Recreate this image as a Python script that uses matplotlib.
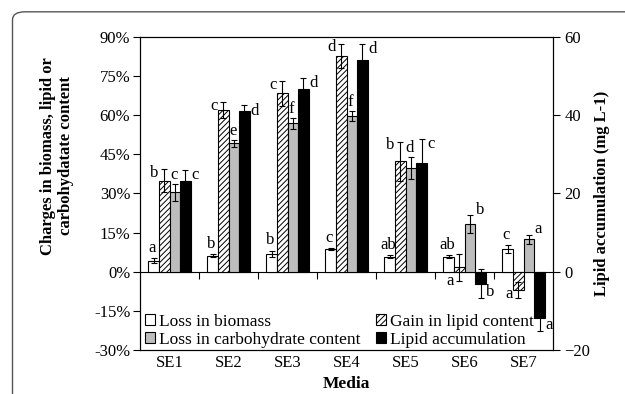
import numpy as np
import matplotlib.pyplot as plt
from matplotlib.patches import FancyBboxPatch

plt.rcParams['font.family'] = ['Liberation Serif', 'DejaVu Serif']
plt.rcParams['hatch.linewidth'] = 0.7

media = ['SE1', 'SE2', 'SE3', 'SE4', 'SE5', 'SE6', 'SE7']

# percent changes (left axis)
biomass = [4.2, 6.1, 6.8, 8.7, 5.75, 5.7, 8.7]
biomass_err = [1.0, 0.5, 1.3, 0.5, 0.5, 0.5, 1.5]
lipid = [34.9, 62.0, 68.4, 82.8, 42.3, 1.6, -7.0]
lipid_err = [4.5, 3.0, 4.8, 4.7, 7.6, 5.0, 3.0]
carb = [30.4, 49.2, 56.9, 59.8, 39.8, 18.3, 12.5]
carb_err = [3.3, 1.3, 2.0, 2.0, 4.3, 3.5, 1.7]

# lipid accumulation, mg L-1 (right axis)
accum = [23.3, 41.0, 46.7, 54.1, 27.9, -3.1, -11.9]
accum_err = [2.7, 1.5, 2.9, 4.2, 6.0, 3.7, 3.3]

biomass_lbl = ['a', 'b', 'b', 'c', 'ab', 'ab', 'c']
lipid_lbl = ['b', 'c', 'c', 'd', 'b', 'a', 'a']
carb_lbl = ['c', 'e', 'f', 'f', 'd', 'b', 'a']
accum_lbl = ['c', 'd', 'd', 'd', 'c', 'b', 'a']

x = np.arange(len(media))
w = 0.18
offs = [-1.5 * w, -0.5 * w, 0.5 * w, 1.5 * w]

fig = plt.figure(figsize=(6.25, 3.94), dpi=100)
fig.patches.append(FancyBboxPatch((0.02, -0.1), 1.2, 1.07, boxstyle='round,pad=0,rounding_size=0.02',
                                  transform=fig.transFigure, fill=False, ec='#555555', lw=1.0))
ax = fig.add_axes([0.224, 0.112, 0.661, 0.794])
ax2 = ax.twinx()

ekw = dict(elinewidth=0.8, capthick=0.8, capsize=2.5, ecolor='black')
b1 = ax.bar(x + offs[0], biomass, w, color='white', edgecolor='black', lw=0.8,
            yerr=biomass_err, error_kw=ekw, label='Loss in biomass')
b2 = ax.bar(x + offs[1], lipid, w, color='white', edgecolor='black', lw=0.8, hatch='//////',
            yerr=lipid_err, error_kw=ekw, label='Gain in lipid content')
b3 = ax.bar(x + offs[2], carb, w, color='#bdbdbd', edgecolor='black', lw=0.8,
            yerr=carb_err, error_kw=ekw, label='Loss in carbohydrate content')
b4 = ax2.bar(x + offs[3], accum, w, color='black', edgecolor='black', lw=0.8,
             yerr=accum_err, error_kw=ekw, label='Lipid accumulation')

fs = 12
for i in range(len(media)):
    ax.text(x[i] + offs[0] - 0.03, biomass[i] + biomass_err[i] + 0.8, biomass_lbl[i],
            ha='center', va='bottom', fontsize=fs)
    # hatched: left of bar at end of error bar
    if lipid[i] >= 0 and lipid[i] - lipid_err[i] > 0:
        ax.text(x[i] + offs[1] - w / 2 - 0.01, lipid[i] + lipid_err[i] - 1.5, lipid_lbl[i],
                ha='right', va='center', fontsize=fs)
    else:
        ax.text(x[i] + offs[1] - w / 2 - 0.01, min(lipid[i], 0) - lipid_err[i] + 1.5, lipid_lbl[i],
                ha='right', va='center', fontsize=fs)
    if i < 5:
        ax.text(x[i] + offs[2] - 0.02, carb[i] + carb_err[i] + 0.3, carb_lbl[i],
                ha='center', va='bottom', fontsize=fs)
    else:
        ax.text(x[i] + offs[2] + w / 2 + 0.01, carb[i] + carb_err[i] + 2, carb_lbl[i],
                ha='left', va='center', fontsize=fs)
    if accum[i] >= 0:
        ax2.text(x[i] + offs[3] + w / 2 + 0.01, accum[i] + accum_err[i] - 1.3, accum_lbl[i],
                 ha='left', va='center', fontsize=fs)
    else:
        ax2.text(x[i] + offs[3] + w / 2 + 0.01, accum[i] - accum_err[i] + 1.5, accum_lbl[i],
                 ha='left', va='center', fontsize=fs)

ax.set_xlim(-0.5, len(media) - 0.5)
ax.set_ylim(-30, 90)
ax.set_yticks(np.arange(-30, 91, 15))
ax.set_yticklabels([f'{v}%' for v in range(-30, 91, 15)])
ax2.set_ylim(-20, 60)
ax2.set_yticks([-20, 0, 20, 40, 60])
ax.set_xticks(x)
ax.set_xticklabels(media)
ax.tick_params(axis='x', length=0, labelsize=fs, pad=4)
ax.tick_params(axis='y', length=5, labelsize=fs, width=0.8, pad=2)
ax2.tick_params(axis='y', length=5, labelsize=fs, width=0.8, pad=3)
for a in (ax, ax2):
    for s in a.spines.values():
        s.set_linewidth(0.8)

# zero line with category boundary ticks
sec = ax.secondary_xaxis(0.25)
sec.set_xticks(np.arange(0.5, len(media) - 0.5, 1))
sec.set_xticklabels([])
sec.tick_params(axis='x', direction='out', length=5, width=0.8)
sec.spines['bottom'].set_linewidth(0.8)

ax.set_xlabel('Media', fontsize=12.5, fontweight='bold', labelpad=3)
ax.set_ylabel('Charges in biomass, lipid or\ncarbohydatate content', fontsize=12,
              fontweight='bold')
ax.yaxis.set_label_coords(-0.16, 0.62)
ax2.set_ylabel('Lipid accumulation (mg L-1)', fontsize=12, fontweight='bold', labelpad=3)

leg = ax.legend([b1, b3, b2, b4],
                ['Loss in biomass', 'Loss in carbohydrate content', 'Gain in lipid content', 'Lipid accumulation'],
                ncol=2, loc='lower left', bbox_to_anchor=(-0.005, -0.015), frameon=False, fontsize=12.5,
                handlelength=0.6, handleheight=0.6, handletextpad=0.2, columnspacing=0.9,
                labelspacing=0.12, borderaxespad=0)

fig.savefig('out.png', dpi=100)
